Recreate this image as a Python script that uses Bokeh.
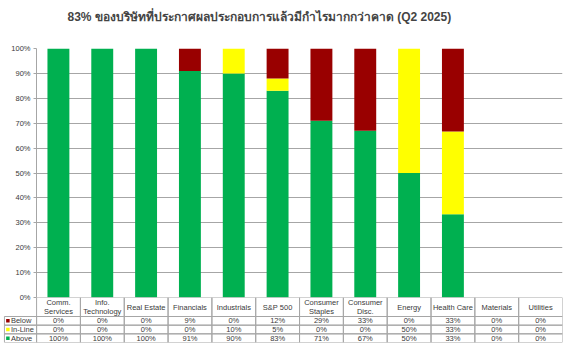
from bokeh.plotting import figure
from bokeh.models import Range1d, FixedTicker, ColumnDataSource, Title
from bokeh.layouts import column
from bokeh.embed import file_html
from bokeh.resources import INLINE
from bokeh.core.properties import value

# ---- data ----
title_text = "83% ของบริษัทที่ประกาศผลประกอบการแล้วมีกำไรมากกว่าคาด (Q2 2025)"
categories = ["Comm.\nServices", "Info.\nTechnology", "Real Estate", "Financials",
              "Industrials", "S&P 500", "Consumer\nStaples", "Consumer\nDisc.",
              "Energy", "Health Care", "Materials", "Utilities"]
below = [0, 0, 0, 9, 0, 12, 29, 33, 0, 33.3, 0, 0]
inline = [0, 0, 0, 0, 10, 5, 0, 0, 50, 33.3, 0, 0]
above = [100, 100, 100, 91, 90, 83, 71, 67, 50, 33.4, 0, 0]
series_names = ["Below", "In-Line", "Above"]
series_colors = ["#990000", "#FFFF00", "#00B050"]
y_ticks = [0, 10, 20, 30, 40, 50, 60, 70, 80, 90, 100]

FONT = "Liberation Sans"
TXT = "#3a3a3a"
GRID = "#a6a6a6"

n = len(categories)
xs = [i + 0.5 for i in range(n)]

src = ColumnDataSource(dict(
    x=xs,
    above=[v / 100 for v in above],
    inline=[v / 100 for v in inline],
    below=[v / 100 for v in below],
))

# ---- chart ----
p = figure(width=570, height=302, x_range=Range1d(0, n), y_range=Range1d(0, 1),
           output_backend="svg", toolbar_location=None, x_axis_location=None,
           min_border_left=36, min_border_right=8, min_border_bottom=5, min_border_top=48)
p.frame_align = False
p.title.text = title_text
p.title.align = "left"
p.title.offset = 31
p.title.text_font = "Liberation Sans"
p.title.text_font_size = "12px"
p.title.text_font_style = "bold"
p.title.standoff = 2
# empty spacer panel between title and plot area
p.add_layout(Title(text=" ", text_font_size="12px", standoff=8), "above")
p.outline_line_color = None
p.xgrid.visible = False
p.ygrid.ticker = FixedTicker(ticks=[t / 100 for t in y_ticks])
p.ygrid.grid_line_color = GRID
p.ygrid.grid_line_width = 1
p.yaxis.ticker = FixedTicker(ticks=[t / 100 for t in y_ticks])
p.yaxis.major_label_overrides = {t / 100: f"{t}%" for t in y_ticks}
p.yaxis.major_label_text_font = FONT
p.yaxis.major_label_text_font_size = "7.5px"
p.yaxis.major_label_text_color = TXT
p.yaxis.axis_line_color = GRID
p.yaxis.major_tick_line_color = GRID
p.yaxis.major_tick_in = 0
p.yaxis.major_tick_out = 3
p.yaxis.minor_tick_line_color = None
p.yaxis.major_label_standoff = 3

p.vbar_stack(["above", "inline", "below"], x="x", width=0.5, source=src,
             fill_color=[series_colors[2], series_colors[1], series_colors[0]],
             line_color=None)

# ---- data table below ----
left_edge = -0.755
t = figure(width=570, height=55, x_range=Range1d(left_edge, n), y_range=Range1d(0, 45),
           output_backend="svg", toolbar_location=None,
           x_axis_location=None, y_axis_location=None,
           min_border_left=3, min_border_right=8, min_border_top=0, min_border_bottom=10)
t.frame_align = False
t.grid.visible = False
t.outline_line_color = None
t.background_fill_alpha = 0
t.border_fill_alpha = 0
t.styles = {"margin-top": "-5px"}

row_h = 26 / 3
header_b, header_t = 26, 45
row_bounds = [(26 - row_h, 26), (26 - 2 * row_h, 26 - row_h), (0, 26 - 2 * row_h)]

ql, qr, qb, qt = [], [], [], []
for i in range(n):
    ql.append(i); qr.append(i + 1); qb.append(header_b); qt.append(header_t)
    for (b, tp) in row_bounds:
        ql.append(i); qr.append(i + 1); qb.append(b); qt.append(tp)
for (b, tp) in row_bounds:
    ql.append(left_edge + 0.02); qr.append(0); qb.append(b); qt.append(tp)
t.quad(left=ql, right=qr, bottom=qb, top=qt, fill_color=None,
       line_color=GRID, line_width=1)

t.text(x=xs, y=[(header_b + header_t) / 2] * n, text=categories,
       text_align="center", text_baseline="middle", text_font=value(FONT),
       text_font_size="7.5px", text_color=TXT, text_line_height=1.0)

rows = [below, inline, above]
for (b, tp), vals in zip(row_bounds, rows):
    t.text(x=xs, y=[(b + tp) / 2] * n, text=[f"{round(v):d}%" for v in vals],
           text_align="center", text_baseline="middle", text_font=value(FONT),
           text_font_size="7.5px", text_color=TXT)

cy = [(b + tp) / 2 for (b, tp) in row_bounds]
t.scatter(x=[left_edge + 0.1] * 3, y=cy, marker="square", size=3.5,
          fill_color=series_colors, line_color=None)
t.text(x=[left_edge + 0.17] * 3, y=cy, text=series_names, text_align="left",
       text_baseline="middle", text_font=value(FONT), text_font_size="7.5px",
       text_color=TXT)

layout = column(p, t, spacing=0)
open("out.html", "w").write(file_html(layout, INLINE))
